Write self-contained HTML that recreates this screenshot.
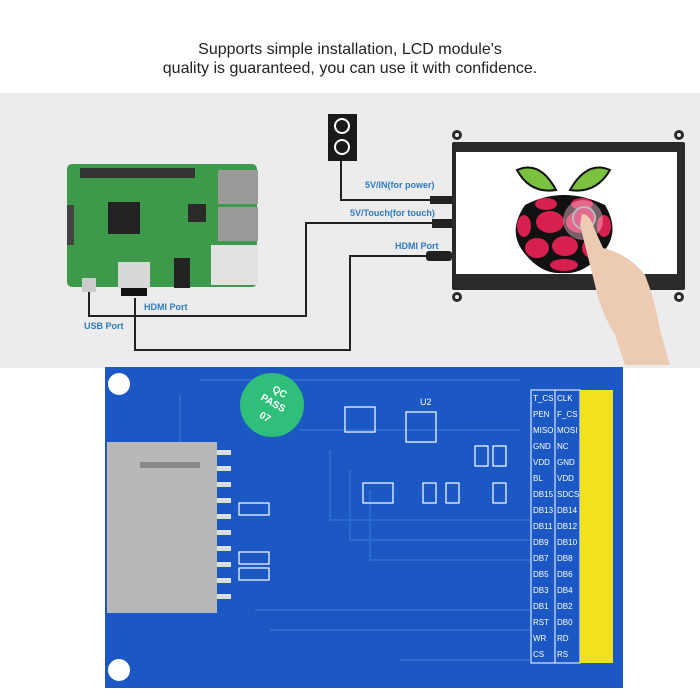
<!DOCTYPE html>
<html><head><meta charset="utf-8"><style>
html,body{margin:0;padding:0;background:#fff;}
svg{display:block;}
text{font-family:"Liberation Sans",sans-serif;}
</style></head><body>
<svg width="700" height="700" viewBox="0 0 700 700" xmlns="http://www.w3.org/2000/svg">
<rect width="700" height="700" fill="#fff"/>
<text x="350" y="54" font-size="16" text-anchor="middle" fill="#222">Supports simple installation, LCD module's</text>
<text x="350" y="73" font-size="16" text-anchor="middle" fill="#222">quality is guaranteed, you can use it with confidence.</text>
<rect x="0" y="93" width="700" height="275" fill="#ececec"/>
<!-- cables -->
<g fill="none" stroke="#222" stroke-width="2">
<polyline points="341,160 341,200 440,200"/>
<polyline points="89,292 89,316 306,316 306,223 440,223"/>
<polyline points="135,298 135,350 350,350 350,256 432,256"/>
</g>
<rect x="430" y="196" width="22" height="8" fill="#222"/>
<rect x="432" y="219" width="20" height="9" fill="#222"/>
<rect x="426" y="251" width="26" height="10" rx="3" fill="#222"/>
<!-- adapter -->
<rect x="328" y="114" width="29" height="47" fill="#1a1a1a"/>
<circle cx="342" cy="126" r="7" fill="none" stroke="#fff" stroke-width="2"/>
<circle cx="342" cy="147" r="7" fill="none" stroke="#fff" stroke-width="2"/>
<!-- Raspberry Pi -->
<rect x="67" y="164" width="190" height="123" rx="5" fill="#3d9a4a"/>
<rect x="80" y="168" width="115" height="10" fill="#333"/>
<rect x="108" y="202" width="32" height="32" fill="#222"/>
<rect x="188" y="204" width="18" height="18" fill="#2a2a2a"/>
<rect x="218" y="170" width="40" height="34" fill="#9a9a9a"/>
<rect x="218" y="207" width="40" height="34" fill="#9a9a9a"/>
<rect x="211" y="245" width="47" height="40" fill="#e2e2e2"/>
<rect x="67" y="205" width="7" height="40" fill="#444"/>
<rect x="118" y="262" width="32" height="26" fill="#d8d8d8"/>
<rect x="121" y="288" width="26" height="8" fill="#111"/>
<rect x="174" y="258" width="16" height="30" fill="#222"/>
<rect x="82" y="278" width="14" height="14" fill="#ccc"/>
<!-- labels -->
<g fill="#2e7cbf" font-size="9" font-weight="bold">
<text x="365" y="188">5V/IN(for power)</text>
<text x="350" y="216">5V/Touch(for touch)</text>
<text x="395" y="249">HDMI Port</text>
<text x="144" y="310">HDMI Port</text>
<text x="84" y="329">USB Port</text>
</g>
<!-- screen -->
<rect x="452" y="142" width="233" height="148" rx="2" fill="#2a2a2a"/>
<circle cx="457" cy="135" r="5" fill="#2a2a2a"/><circle cx="679" cy="135" r="5" fill="#2a2a2a"/>
<circle cx="457" cy="297" r="5" fill="#2a2a2a"/><circle cx="679" cy="297" r="5" fill="#2a2a2a"/>
<circle cx="457" cy="135" r="2" fill="#eee"/><circle cx="679" cy="135" r="2" fill="#eee"/>
<circle cx="457" cy="297" r="2" fill="#eee"/><circle cx="679" cy="297" r="2" fill="#eee"/>
<rect x="456" y="152" width="221" height="122" fill="#fff"/>
<path d="M517 170 Q540 160 556 190 Q530 194 517 170Z M610 170 Q587 160 570 190 Q596 194 610 170Z" fill="#7ac13e" stroke="#111" stroke-width="2"/>
<path d="M525 205 Q563 185 605 205 Q620 230 605 250 Q585 275 563 273 Q540 275 522 250 Q508 230 525 205Z" fill="#111"/>
<g fill="#d6204f">
<ellipse cx="546" cy="204" rx="11" ry="6"/><ellipse cx="582" cy="204" rx="11" ry="6"/>
<ellipse cx="524" cy="226" rx="7" ry="11"/><ellipse cx="550" cy="222" rx="14" ry="11"/><ellipse cx="580" cy="222" rx="14" ry="11"/><ellipse cx="604" cy="226" rx="7" ry="11"/>
<ellipse cx="537" cy="248" rx="12" ry="10"/><ellipse cx="565" cy="246" rx="13" ry="10"/><ellipse cx="592" cy="248" rx="10" ry="10"/>
<ellipse cx="564" cy="265" rx="14" ry="6"/>
</g>
<circle cx="583" cy="220" r="20" fill="#f3c2d0" opacity="0.45"/>
<circle cx="584" cy="218" r="11" fill="#e06a90" stroke="#bbb" stroke-width="2"/>
<!-- hand -->
<path d="M582 214 Q590 214 594 228 L603 248 Q630 255 645 275 Q655 300 660 330 L670 365 L625 365 L615 335 Q600 310 595 285 L580 225Z" fill="#eccbb2"/>
<!-- PCB -->
<rect x="105" y="367" width="518" height="321" fill="#1b58c4"/>
<circle cx="119" cy="384" r="11" fill="#fff"/>
<circle cx="119" cy="670" r="11" fill="#fff"/>
<g fill="none" stroke="#2a6ad2" stroke-width="2">
<path d="M180 395 V590 M200 380 H520 M300 430 H520 M330 450 V520 H530 M350 470 V540 H530 M370 490 V560 H530 M255 610 H530 M270 630 H530 M400 660 H530"/>
</g>
<circle cx="272" cy="405" r="32" fill="#2fbf7a"/>
<g fill="#fff" font-size="10" font-weight="bold" transform="rotate(30 272 405)">
<text x="272" y="393" text-anchor="middle">QC</text>
<text x="272" y="406" text-anchor="middle">PASS</text>
<text x="272" y="422" text-anchor="middle">07</text>
</g>
<!-- SD card -->
<rect x="107" y="442" width="110" height="171" fill="#b8b8b8"/>
<rect x="140" y="462" width="60" height="6" fill="#888"/>
<g fill="#ddd">
<rect x="217" y="450" width="14" height="5"/><rect x="217" y="466" width="14" height="5"/><rect x="217" y="482" width="14" height="5"/><rect x="217" y="498" width="14" height="5"/><rect x="217" y="514" width="14" height="5"/><rect x="217" y="530" width="14" height="5"/><rect x="217" y="546" width="14" height="5"/><rect x="217" y="562" width="14" height="5"/><rect x="217" y="578" width="14" height="5"/><rect x="217" y="594" width="14" height="5"/>
</g>
<g fill="none" stroke="#fff" stroke-width="1.2">
<rect x="239" y="503" width="30" height="12"/><rect x="239" y="552" width="30" height="12"/><rect x="239" y="568" width="30" height="12"/>
<rect x="345" y="407" width="30" height="25"/><rect x="406" y="412" width="30" height="30"/>
<rect x="363" y="483" width="30" height="20"/><rect x="423" y="483" width="13" height="20"/><rect x="446" y="483" width="13" height="20"/><rect x="493" y="483" width="13" height="20"/><rect x="475" y="446" width="13" height="20"/><rect x="493" y="446" width="13" height="20"/>
</g>
<g fill="#fff" font-size="9">
<text x="420" y="405">U2</text>
</g>
<!-- pin table -->
<rect x="531" y="390" width="49" height="273" fill="#1b58c4" stroke="#fff" stroke-width="1"/>
<line x1="555" y1="390" x2="555" y2="663" stroke="#fff"/>
<rect x="580" y="390" width="33" height="273" fill="#f2e21e"/>
<g fill="#fff" font-size="8" font-family="Liberation Mono,monospace">
<text x="533" y="401">T_CS</text><text x="557" y="401">CLK</text>
<text x="533" y="417">PEN</text><text x="557" y="417">F_CS</text>
<text x="533" y="433">MISO</text><text x="557" y="433">MOSI</text>
<text x="533" y="449">GND</text><text x="557" y="449">NC</text>
<text x="533" y="465">VDD</text><text x="557" y="465">GND</text>
<text x="533" y="481">BL</text><text x="557" y="481">VDD</text>
<text x="533" y="497">DB15</text><text x="557" y="497">SDCS</text>
<text x="533" y="513">DB13</text><text x="557" y="513">DB14</text>
<text x="533" y="529">DB11</text><text x="557" y="529">DB12</text>
<text x="533" y="545">DB9</text><text x="557" y="545">DB10</text>
<text x="533" y="561">DB7</text><text x="557" y="561">DB8</text>
<text x="533" y="577">DB5</text><text x="557" y="577">DB6</text>
<text x="533" y="593">DB3</text><text x="557" y="593">DB4</text>
<text x="533" y="609">DB1</text><text x="557" y="609">DB2</text>
<text x="533" y="625">RST</text><text x="557" y="625">DB0</text>
<text x="533" y="641">WR</text><text x="557" y="641">RD</text>
<text x="533" y="657">CS</text><text x="557" y="657">RS</text>
</g>
</svg>
</body></html>
